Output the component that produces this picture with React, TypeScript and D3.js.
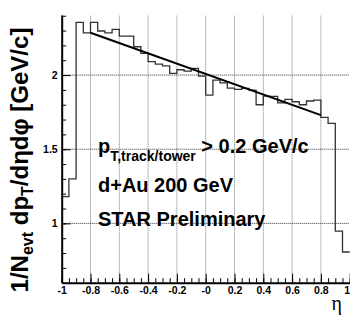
import React, { useEffect, useRef } from 'react';
import * as d3 from 'd3';

// histogram: 40 bins in eta from -1 to 1
const etaMin = -1;
const binWidth = 0.05;
const binValues = [
  1.18, 1.30, 2.355, 2.285, 2.355, 2.297, 2.285, 2.308, 2.263, 2.263,
  2.191, 2.146, 2.09, 2.074, 2.062, 2.012, 2.036, 2.027, 2.045, 1.993,
  1.865, 1.966, 1.948, 1.912, 1.903, 1.91, 1.899, 1.80, 1.858, 1.856,
  1.813, 1.836, 1.82, 1.80, 1.825, 1.831, 1.715, 1.674, 0.948, 0.807,
];

// linear fit
const fitEta = [-0.8, 0.8];
const fitValues = [2.285, 1.73];

const xTickValues = [-1, -0.8, -0.6, -0.4, -0.2, 0, 0.2, 0.4, 0.6, 0.8, 1];
const xTickLabels = ['-1', '-0.8', '-0.6', '-0.4', '-0.2', '-0', '0.2', '0.4', '0.6', '0.8', '1'];
const xGridValues = [-0.8, -0.6, -0.4, -0.2, 0, 0.2, 0.4, 0.6, 0.8];
const yTickValues = [1, 1.5, 2];
const yTickLabels = ['1', '1.5', '2'];

const width = 350;
const height = 316;
const font = "'Liberation Sans', Arial, Helvetica, sans-serif";

export default function App() {
  const svgRef = useRef<SVGGElement>(null);

  useEffect(() => {
    const svg = d3.select(svgRef.current);
    svg.selectAll('*').remove();

    const x = d3.scaleLinear().domain([-1, 1]).range([61.7, 349.7]);
    const y = d3.scaleLinear().domain([0.6, 2.405]).range([282.7, 15]);

    // grid
    const grid = svg.append('g');
    grid.selectAll('line.vx')
      .data(xGridValues)
      .enter().append('line')
      .attr('x1', d => x(d)).attr('x2', d => x(d))
      .attr('y1', y(0.6)).attr('y2', y(2.405))
      .attr('stroke', '#777').attr('stroke-dasharray', '1,1').attr('stroke-width', 1);
    grid.selectAll('line.hy')
      .data(yTickValues)
      .enter().append('line')
      .attr('x1', x(-1)).attr('x2', x(1))
      .attr('y1', d => y(d)).attr('y2', d => y(d))
      .attr('stroke', '#333').attr('stroke-dasharray', '1,1').attr('stroke-width', 1);

    // histogram outline
    const pts: [number, number][] = binValues.map((v, i) => [etaMin + i * binWidth, v]);
    pts.push([etaMin + binValues.length * binWidth, binValues[binValues.length - 1]]);
    const step = d3.line<[number, number]>()
      .x(d => x(d[0]))
      .y(d => y(d[1]))
      .curve(d3.curveStepAfter);
    svg.append('path')
      .attr('d', step(pts))
      .attr('fill', 'none')
      .attr('stroke', '#333')
      .attr('stroke-width', 1.3);

    // fit line
    const fitLine = d3.line<number>()
      .x(d => x(d))
      .y((d, i) => y(fitValues[i]));
    svg.append('path')
      .attr('d', fitLine(fitEta))
      .attr('fill', 'none')
      .attr('stroke', '#000')
      .attr('stroke-width', 2);

    // x axis
    const xAxis = d3.axisBottom(x)
      .tickValues(xTickValues)
      .tickSize(-9)
      .tickSizeOuter(0)
      .tickPadding(4)
      .tickFormat((d, i) => xTickLabels[i]);
    const xMinor = d3.axisBottom(x)
      .tickValues(d3.range(-1, 1.001, 0.05).map(v => +v.toFixed(2)))
      .tickSize(-4.5)
      .tickSizeOuter(0)
      .tickFormat(() => '');
    const gxm = svg.append('g').attr('transform', `translate(0,${y(0.6)})`).call(xMinor);
    gxm.select('.domain').remove();
    const gx = svg.append('g').attr('transform', `translate(0,${y(0.6)})`).call(xAxis);
    gx.select('.domain').attr('stroke-width', 2);
    gx.selectAll('text')
      .attr('font-family', font).attr('font-weight', 'bold').attr('font-size', 10.5).attr('fill', '#000');
    // last label sits at the right edge: keep it inside the picture
    gx.selectAll('text').filter((d, i) => i === xTickValues.length - 1)
      .attr('text-anchor', 'end');

    // y axis
    const yAxis = d3.axisLeft(y)
      .tickValues(yTickValues)
      .tickSize(-9)
      .tickSizeOuter(0)
      .tickPadding(4)
      .tickFormat((d, i) => yTickLabels[i]);
    const yMinor = d3.axisLeft(y)
      .tickValues(d3.range(0.7, 2.41, 0.1).map(v => +v.toFixed(1)))
      .tickSize(-4.5)
      .tickSizeOuter(0)
      .tickFormat(() => '');
    const gym = svg.append('g').attr('transform', `translate(${x(-1)},0)`).call(yMinor);
    gym.select('.domain').remove();
    const gy = svg.append('g').attr('transform', `translate(${x(-1)},0)`).call(yAxis);
    gy.select('.domain').attr('stroke-width', 2);
    gy.selectAll('text')
      .attr('font-family', font).attr('font-weight', 'bold').attr('font-size', 10.5).attr('fill', '#000');
  }, []);

  return (
    <svg
      width={width}
      height={height}
      style={{ position: 'absolute', left: 0, top: 0, background: '#fff' }}
    >
      <g ref={svgRef} />
      <g fontFamily={font} fontWeight="bold" fill="#000">
        <text x={98} y={153} fontSize={20}>
          p<tspan fontSize={14} dy={8}>T,track/tower</tspan>
          <tspan fontSize={20} dy={-8}> &gt; 0.2 GeV/c</tspan>
        </text>
        <text x={98} y={192} fontSize={20}>d+Au 200 GeV</text>
        <text x={98} y={226} fontSize={20}>STAR Preliminary</text>
        <text transform="translate(28,160) rotate(-90)" textAnchor="middle" fontSize={24}>
          1/N<tspan fontSize={16} dy={5}>evt</tspan>
          <tspan dy={-5}> dp</tspan>
          <tspan fontSize={16} dy={5}>T</tspan>
          <tspan dy={-5}>/dηdφ [GeV/c]</tspan>
        </text>
      </g>
      <text x={342} y={310} textAnchor="end" fontFamily="'Liberation Serif', 'DejaVu Serif', serif" fontSize={20}>η</text>
    </svg>
  );
}
